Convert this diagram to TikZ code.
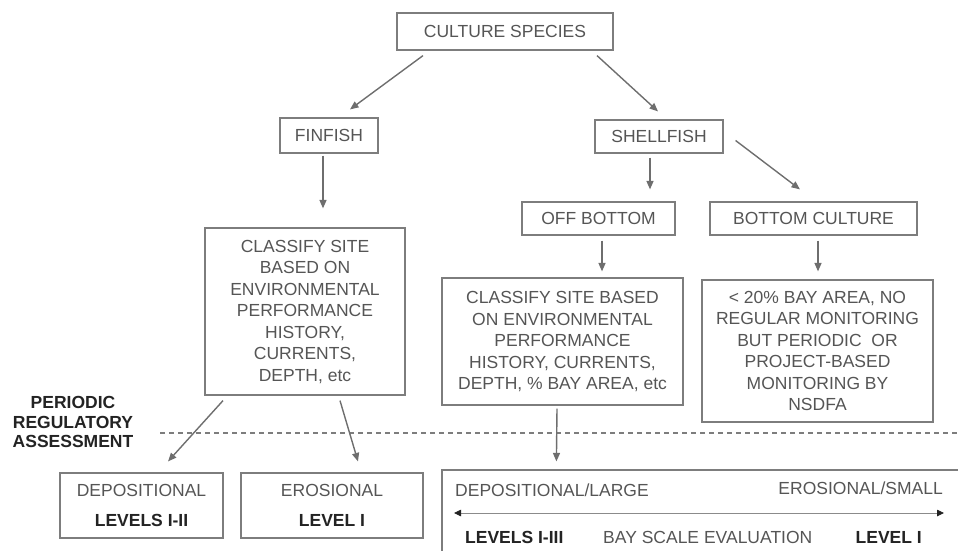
\documentclass[tikz,border=0pt]{standalone}
\usepackage{fontspec}
\setmainfont{Liberation Sans}
\usepackage{tikz}
\usetikzlibrary{arrows.meta}
\definecolor{boxGray}{RGB}{125,125,125}
\definecolor{textGray}{RGB}{85,85,85}
\definecolor{darkText}{RGB}{35,35,35}
\definecolor{arrowGray}{RGB}{110,110,110}

\begin{document}
\begin{tikzpicture}[x=1pt, y=-1pt,
  box/.style={rectangle, draw=boxGray, line width=1.2pt, inner sep=0pt,
              text=textGray, font=\fontsize{17.5}{21.5}\selectfont, align=center},
  lbl/.style={inner sep=0pt, text=textGray, font=\fontsize{17.5}{21}\selectfont},
  lvl/.style={inner sep=0pt, text=darkText, font=\fontsize{17.5}{21}\selectfont\bfseries},
  arrow/.style={-{Triangle[length=8.5pt,width=7pt]}, line width=1.4pt, draw=arrowGray},
  scalearrow/.style={{Triangle[length=7pt,width=6.5pt,color=darkText]}-{Triangle[length=7pt,width=6.5pt,color=darkText]},
                     line width=0.8pt, draw=arrowGray!80}
]
\useasboundingbox (0,0) rectangle (958,550);
\clip (0,0) rectangle (958,550);

% Species
\node[box, minimum width=216, minimum height=37] (cs) at (505,31.5) {CULTURE SPECIES};
\node[box, minimum width=98, minimum height=35] (fin) at (329,135.5) {FINFISH};
\node[box, minimum width=128, minimum height=33] (shell) at (659,136.5) {SHELLFISH};
% Shellfish culture types
\node[box, minimum width=153, minimum height=33] (off) at (598.5,218.5) {OFF BOTTOM};
\node[box, minimum width=207, minimum height=33] (bot) at (813.5,218.5) {BOTTOM CULTURE};
% Site classification
\node[box, minimum width=200, minimum height=167] (clsL) at (305,311.5)
  {CLASSIFY SITE\\BASED ON\\ENVIRONMENTAL\\PERFORMANCE\\HISTORY,\\CURRENTS,\\DEPTH, etc};
\node[box, minimum width=241, minimum height=127] (clsM) at (562.5,341.5)
  {CLASSIFY SITE BASED\\ON ENVIRONMENTAL\\PERFORMANCE\\HISTORY, CURRENTS,\\DEPTH, \% BAY AREA, etc};
\node[box, minimum width=231, minimum height=142] (nsdfa) at (817.5,351)
  {< 20\% BAY AREA, NO\\REGULAR MONITORING\\BUT PERIODIC \ OR\\PROJECT-BASED\\MONITORING BY\\NSDFA};

% Assessment divider
\node[lvl, align=center, font=\fontsize{17.5}{19.5}\selectfont\bfseries] (pra) at (73,422)
  {PERIODIC\\REGULATORY\\ASSESSMENT};
\coordinate (divL) at (160,433);
\coordinate (divR) at (958,433);
\draw[boxGray, line width=1.2pt, dash pattern=on 5pt off 4pt] (divL) -- (divR);

% Outcomes
\node[box, minimum width=163, minimum height=65] (dep) at (141.5,505.5)
  {DEPOSITIONAL\\[9pt]{\color{darkText}\bfseries LEVELS I-II}};
\node[box, minimum width=182, minimum height=65] (ero) at (332,505.5)
  {EROSIONAL\\[9pt]{\color{darkText}\bfseries LEVEL I}};
\node[box, minimum width=528, minimum height=90] (bay) at (706,515) {};
\node[lbl, anchor=west] (dl) at (455,490) {DEPOSITIONAL/LARGE};
\node[lbl, anchor=east] (es) at (943,488) {EROSIONAL/SMALL};
\node[lvl, anchor=west] (lv3) at (465,537) {LEVELS I-III};
\node[lbl, anchor=west] (bse) at (603,537) {BAY SCALE EVALUATION};
\node[lvl, anchor=east] (lv1) at (922,537) {LEVEL I};
\coordinate (sl) at (454,513);
\coordinate (sr) at (944,513);
\draw[scalearrow] (sl) -- (sr);

\draw[arrow] ([xshift=-82pt,yshift=-5pt]cs.south) -- ([xshift=21pt,yshift=8pt]fin.north);
\draw[arrow] ([xshift=92pt,yshift=-5pt]cs.south) -- ([xshift=-1pt,yshift=8pt]shell.north);
\draw[arrow] ([xshift=-6pt,yshift=-2pt]fin.south) -- ([xshift=18pt,yshift=19pt]clsL.north);
\draw[arrow] ([xshift=-9pt,yshift=-4pt]shell.south) -- ([xshift=51.5pt,yshift=12pt]off.north);
\draw[arrow] ([xshift=12pt,yshift=-4pt]shell.east) -- ([xshift=-13.5pt,yshift=12pt]bot.north);
\draw[arrow] ([xshift=3.5pt,yshift=-5pt]off.south) -- ([xshift=39.5pt,yshift=6pt]clsM.north);
\draw[arrow] ([xshift=4.5pt,yshift=-5pt]bot.south) -- ([xshift=0.5pt,yshift=8pt]nsdfa.north);
\draw[arrow] ([xshift=-82pt,yshift=-5pt]clsL.south) -- ([xshift=26.5pt,yshift=11pt]dep.north);
\draw[arrow] ([xshift=35pt,yshift=-5pt]clsL.south) -- ([xshift=26pt,yshift=11pt]ero.north);
\draw[arrow] ([xshift=-5.5pt,yshift=-3pt]clsM.south) -- ([xshift=115pt,yshift=8pt]bay.north west);

\end{tikzpicture}
\end{document}
